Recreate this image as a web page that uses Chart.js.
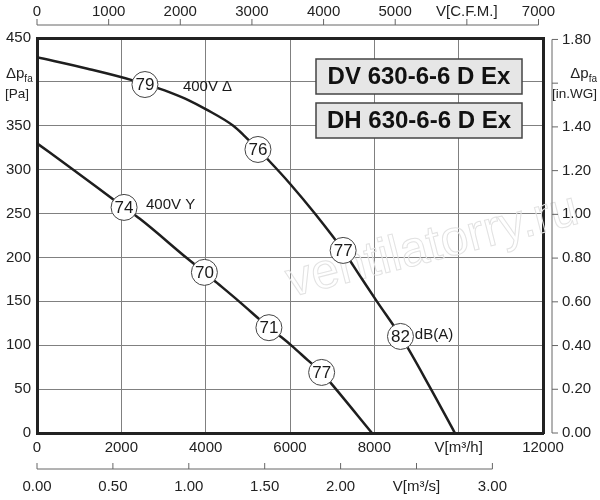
<!DOCTYPE html>
<html>
<head>
<meta charset="utf-8">
<script src="https://cdn.jsdelivr.net/npm/chart.js@4.4.1/dist/chart.umd.min.js"></script>
<style>html,body{margin:0;padding:0;background:#fff}</style>
</head>
<body>
<canvas id="fan" width="600" height="500"></canvas>
<script>
// 400V delta curve: flow [m3/h] / pressure [Pa]
const deltaFlow = [0, 1200, 2250, 2560, 2920, 3150, 3600, 4000, 4655, 4930, 5240, 5525, 6000, 6590, 7260, 7700, 8060, 8655, 9320, 9910];
const deltaPres = [428, 415, 402, 397, 392, 388, 379, 369, 350, 338, 323, 309, 284, 250, 208, 176, 150, 108, 52, 0];
// 400V Y curve
const starFlow = [0, 860, 2065, 2440, 3560, 3970, 4270, 4790, 5240, 5500, 5800, 6050, 6420, 6750, 6950, 7944];
const starPres = [330, 300, 257, 244, 199, 183, 171, 150, 131, 120, 109, 99, 83, 69, 58, 0];
// dB(A) markers
const deltaDbFlow = [2560, 5240, 7260, 8620];
const deltaDbPres = [397, 323, 208, 110];
const deltaDb = ['79', '76', '77', '82'];
const starDbFlow = [2065, 3970, 5500, 6750];
const starDbPres = [257, 183, 120, 69];
const starDb = ['74', '70', '71', '77'];
// curve texts
const noteText = ['400V Δ', '400V Y', 'dB(A)'];
const noteFlow = [3460, 2585, 8960];
const notePres = [394, 260, 112];
const models = ['DV 630-6-6 D Ex', 'DH 630-6-6 D Ex'];
// axes
const flowMax = 12000, flowStep = 2000;
const presMax = 450, presStep = 50;
const cfmTicks = [0, 1000, 2000, 3000, 4000, 5000, 6000, 7000];
const m3sTicks = [0, 0.5, 1, 1.5, 2, 2.5, 3];
const inwgTicks = [0, 0.2, 0.4, 0.6, 0.8, 1.0, 1.2, 1.4, 1.6, 1.8];
const unitLabels = { flow: 'V[m³/h]', cfm: 'V[C.F.M.]', m3s: 'V[m³/s]' };

const FONT = "'Liberation Sans', Arial, sans-serif";
Chart.defaults.font.family = FONT;
Chart.defaults.font.size = 15;
Chart.defaults.color = '#222';

const pts = (xs, ys) => xs.map((x, i) => ({ x: x, y: ys[i] }));
const fixTicks = list => sc => { sc.ticks = list.map(v => ({ value: v })); };
const frame = { display: true, color: '#222', width: 3 };
const last = arr => arr[arr.length - 1];

const extras = {
    id: 'extras',
    beforeDatasetsDraw(chart) {
        const c = chart.ctx;
        c.save();
        c.translate(436, 260);
        c.rotate(-0.25);
        c.font = '50px ' + FONT;
        c.textAlign = 'center';
        c.strokeStyle = '#e2e2e2';
        c.lineWidth = 1;
        c.strokeText('ventilatorry.ru', 0, 0);
        c.restore();
    },
    afterDatasetsDraw(chart) {
        const c = chart.ctx, s = chart.scales, a = chart.chartArea;
        c.save();
        c.fillStyle = '#1a1a1a';
        c.textAlign = 'center';
        c.textBaseline = 'middle';
        c.font = '17px ' + FONT;
        deltaDb.forEach((t, i) => c.fillText(t, s.x.getPixelForValue(deltaDbFlow[i]), s.y.getPixelForValue(deltaDbPres[i]) + 1));
        starDb.forEach((t, i) => c.fillText(t, s.x.getPixelForValue(starDbFlow[i]), s.y.getPixelForValue(starDbPres[i]) + 1));
        c.font = '15px ' + FONT;
        c.textAlign = 'left';
        noteText.forEach((t, i) => c.fillText(t, s.x.getPixelForValue(noteFlow[i]), s.y.getPixelForValue(notePres[i])));

        // model boxes
        models.forEach((m, i) => {
            const bx = 316, by = 59 + i * 44, bw = 206, bh = 35;
            c.fillStyle = '#e6e6e6';
            c.fillRect(bx, by, bw, bh);
            c.strokeStyle = '#444';
            c.lineWidth = 1.5;
            c.strokeRect(bx, by, bw, bh);
            c.fillStyle = '#111';
            c.font = 'bold 24px ' + FONT;
            c.textAlign = 'center';
            c.fillText(m, bx + bw / 2, by + bh / 2 + 1);
        });

        // secondary axis lines
        c.strokeStyle = '#666';
        c.lineWidth = 1;
        c.beginPath();
        const yTop = a.top - 13;
        c.moveTo(s.xc.getPixelForValue(0), yTop);
        c.lineTo(s.xc.getPixelForValue(last(cfmTicks)), yTop);
        s.xc.ticks.forEach(t => {
            const x = s.xc.getPixelForValue(t.value);
            c.moveTo(x, yTop); c.lineTo(x, yTop - 6);
        });
        const xR = a.right + 9;
        c.moveTo(xR, s.yw.getPixelForValue(0));
        c.lineTo(xR, s.yw.getPixelForValue(last(inwgTicks)));
        s.yw.ticks.forEach(t => {
            const y = s.yw.getPixelForValue(t.value);
            c.moveTo(xR, y); c.lineTo(xR + 6, y);
        });
        const yB = a.bottom + 36;
        c.moveTo(s.xs.getPixelForValue(0), yB);
        c.lineTo(s.xs.getPixelForValue(last(m3sTicks)), yB);
        s.xs.ticks.forEach(t => {
            const x = s.xs.getPixelForValue(t.value);
            c.moveTo(x, yB); c.lineTo(x, yB - 6);
        });
        c.stroke();

        // pressure axis titles
        c.fillStyle = '#222';
        c.textBaseline = 'alphabetic';
        c.textAlign = 'left';
        c.font = '15px ' + FONT;
        c.fillText('Δp', 6, 78);
        let w = c.measureText('Δp').width;
        c.font = '10px ' + FONT;
        c.fillText('fa', 6 + w, 82);
        c.font = '13.5px ' + FONT;
        c.fillText('[Pa]', 5, 98);
        c.textAlign = 'right';
        c.font = '10px ' + FONT;
        c.fillText('fa', 597, 82);
        w = c.measureText('fa').width;
        c.font = '15px ' + FONT;
        c.fillText('Δp', 597 - w, 78);
        c.font = '13.5px ' + FONT;
        c.fillText('[in.WG]', 597, 98);
        c.restore();
    }
};

new Chart(document.getElementById('fan'), {
    type: 'scatter',
    data: {
        datasets: [
            {
                data: pts(deltaDbFlow, deltaDbPres).concat(pts(starDbFlow, starDbPres)),
                pointRadius: 13,
                pointBackgroundColor: '#fff',
                pointBorderColor: '#444',
                pointBorderWidth: 1,
                showLine: false
            },
            {
                data: pts(deltaFlow, deltaPres),
                showLine: true,
                borderColor: '#1e1e1e',
                borderWidth: 2.5,
                pointRadius: 0,
                cubicInterpolationMode: 'monotone'
            },
            {
                data: pts(starFlow, starPres),
                showLine: true,
                borderColor: '#1e1e1e',
                borderWidth: 2.5,
                pointRadius: 0,
                cubicInterpolationMode: 'monotone'
            }
        ]
    },
    options: {
        responsive: false,
        animation: false,
        layout: { padding: 0 },
        plugins: { legend: { display: false }, tooltip: { enabled: false } },
        scales: {
            x: {
                type: 'linear', position: 'bottom', min: 0, max: flowMax,
                ticks: { stepSize: flowStep, padding: 6, maxRotation: 0,
                    callback: v => v === 10000 ? unitLabels.flow : String(v) },
                grid: { color: '#808080', lineWidth: 1, drawTicks: false },
                border: frame,
                afterFit: sc => { sc.height = 30; }
            },
            xs: {
                type: 'linear', position: 'bottom', weight: 1, min: 0, max: flowMax / 3600,
                afterBuildTicks: fixTicks(m3sTicks),
                ticks: { padding: 15, autoSkip: false, maxRotation: 0,
                    callback: v => Math.abs(v - 2.5) < 1e-6 ? unitLabels.m3s : v.toFixed(2) },
                grid: { display: false, drawTicks: false },
                border: { display: false },
                afterFit: sc => { sc.height = 37; }
            },
            xc: {
                type: 'linear', position: 'top', min: 0, max: flowMax / 1.699,
                afterBuildTicks: fixTicks(cfmTicks),
                ticks: { padding: 17, autoSkip: false, maxRotation: 0,
                    callback: v => v === 6000 ? unitLabels.cfm : String(v) },
                grid: { display: false, drawTicks: false },
                border: frame,
                afterFit: sc => { sc.height = 38; }
            },
            y: {
                type: 'linear', position: 'left', min: 0, max: presMax,
                ticks: { stepSize: presStep, padding: 6,
                    callback: v => v === 400 ? '' : String(v) },
                grid: { color: '#808080', lineWidth: 1, drawTicks: false },
                border: frame,
                afterFit: sc => { sc.width = 37; }
            },
            yw: {
                type: 'linear', position: 'right', min: 0, max: presMax / 249.09,
                afterBuildTicks: fixTicks(inwgTicks),
                ticks: { padding: 19, autoSkip: false,
                    callback: v => Math.abs(v - 1.6) < 1e-6 ? '' : v.toFixed(2) },
                grid: { display: false, drawTicks: false },
                border: frame,
                afterFit: sc => { sc.width = 57; }
            }
        }
    },
    plugins: [extras]
});
</script>
</body>
</html>
